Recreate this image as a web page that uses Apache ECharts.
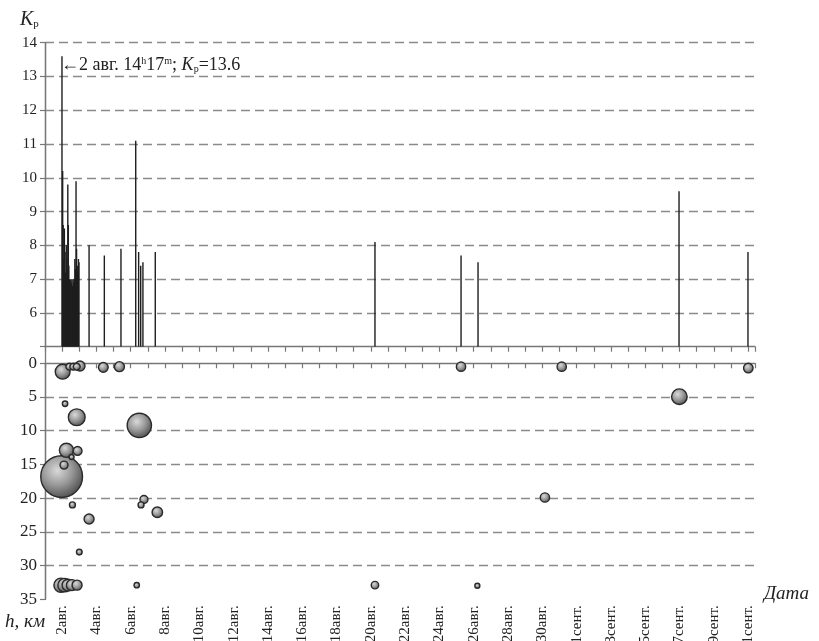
<!DOCTYPE html>
<html>
<head>
<meta charset="utf-8">
<script src="https://cdn.jsdelivr.net/npm/echarts@6/dist/echarts.min.js"></script>
<style>
html,body{margin:0;padding:0;background:#fff;}
#chart{width:819px;height:641px;}
</style>
</head>
<body>
<div id="chart"></div>
<script>
// Day numbering: value N = N-th day of August (32 = 1 Sep, 42 = 11 Sep)
const xTickLabels = ['2авг.','4авг.','6авг.','8авг.','10авг.','12авг.','14авг.','16авг.','18авг.','20авг.',
  '22авг.','24авг.','26авг.','28авг.','30авг.','1сент.','3сент.','5сент.','7сент.','9сент.','11сент.'];
const kTicks = [6,7,8,9,10,11,12,13,14];
const depthTicks = [0,5,10,15,20,25,30,35];

// Energy class K_p of events (top panel)
const barDay = [1.99,2.03,2.06,2.10,2.13,2.17,2.20,2.24,2.27,2.31,2.33,2.36,2.39,2.43,2.46,2.50,2.53,2.57,2.60,2.64,
  2.67,2.71,2.74,2.78,2.81,2.84,2.88,2.91,2.95,2.98,
  3.57,4.46,5.43,6.29,6.46,6.58,6.71,7.43,20.24,25.26,26.25,37.97,41.99];
const barK = [13.6,10.2,8.6,7.6,8.5,7.8,7.2,8.0,7.6,7.3,9.8,8.6,7.4,7.0,6.8,7.0,6.9,7.0,6.8,7.0,
  6.9,7.0,7.6,7.3,9.9,7.9,7.4,7.2,7.6,7.5,
  8.0,7.7,7.9,11.1,7.8,7.4,7.5,7.8,8.1,7.7,7.5,9.6,7.8];

// Hypocentres (bottom panel)
const bubbleDay = [2.03,2.42,2.65,2.85,3.04,4.40,5.34,2.17,2.85,6.50,2.25,2.90,2.55,2.11,1.97,2.60,3.57,3.00,6.77,6.60,7.55,
  1.93,2.14,2.34,2.57,2.87,6.35,20.24,26.21,25.26,31.13,30.15,37.99,42.01];
const bubbleDepth = [1.25,0.5,0.5,0.5,0.4,0.6,0.5,6.0,8.0,9.2,12.9,13.0,13.9,15.1,16.8,21.0,23.1,28.0,20.2,21.0,22.1,
  32.9,32.9,32.9,32.9,32.9,32.9,32.9,33.0,0.5,0.5,19.9,4.95,0.7];
const bubbleK = [9.4,6.3,6.3,6.3,7.8,7.7,7.8,5.3,9.9,11.4,9.2,7.3,5.0,6.9,13.6,5.7,7.8,5.5,6.9,5.7,8.0,
  9.2,9.0,8.5,8.2,7.8,5.3,6.6,5.0,7.5,7.5,7.5,9.6,7.6];

const serif = "'Liberation Serif','Times New Roman',serif";
const axisGray = '#777';
const gridDash = {color:'#8a8a8a', type:[9,5], width:1.3};

const bars = barDay.map((d,i)=>[d, barK[i]]);
const bubbles = bubbleDay.map((d,i)=>[d, bubbleDepth[i], bubbleK[i]])
  .sort((a,b)=>b[2]-a[2]);
const sizeOf = k => 10*Math.pow(10, 0.107*(k-7.8));

const chart = echarts.init(document.getElementById('chart'));
const xCommon = {type:'value', min:1, max:42.4, interval:1,
  axisLine:{lineStyle:{color:axisGray, width:1.3}},
  axisTick:{show:true, length:5, inside:false, lineStyle:{color:axisGray, width:1.2}},
  splitLine:{show:false}};

chart.setOption({
  animation:false,
  grid:[
    {left:45, right:64, top:42.7, height:304, outerBoundsMode:'none', containLabel:false},
    {left:45, right:64, top:363.3, height:236, outerBoundsMode:'none', containLabel:false},
    {left:45, right:64, top:42.7, height:556.6, outerBoundsMode:'none', containLabel:false}
  ],
  xAxis:[
    Object.assign({gridIndex:0, axisLabel:{show:false}}, xCommon),
    Object.assign({gridIndex:1, axisLabel:{show:true, rotate:90, margin:6, fontFamily:serif, fontSize:15, color:'#222',
      hideOverlap:false,
      formatter:v=>{ return (v%2===0 && v>=2) ? (xTickLabels[(v-2)/2]||'') : ''; }}}, xCommon),
    {gridIndex:2, type:'value', show:false, min:0, max:1}
  ],
  yAxis:[
    {gridIndex:0, type:'value', min:5, max:14, interval:1,
      axisLine:{show:true, lineStyle:{color:axisGray, width:1.3}},
      axisTick:{show:true, length:5, lineStyle:{color:axisGray, width:1.2}},
      axisLabel:{fontFamily:serif, fontSize:15, color:'#222', margin:8,
        formatter:v=> kTicks.indexOf(v)>=0 ? String(v) : ''},
      splitLine:{show:true, showMinLine:false, lineStyle:gridDash}},
    {gridIndex:1, type:'value', inverse:true, min:0, max:35, interval:5,
      axisLine:{show:true, lineStyle:{color:axisGray, width:1.3}},
      axisTick:{show:true, length:5, lineStyle:{color:axisGray, width:1.2}},
      axisLabel:{fontFamily:serif, fontSize:17, color:'#222', margin:8,
        formatter:v=> depthTicks.indexOf(v)>=0 ? String(v) : ''},
      splitLine:{show:true, showMinLine:false, showMaxLine:false, lineStyle:gridDash}},
    {gridIndex:2, type:'value', position:'right', min:0, max:1,
      axisLine:{show:true, lineStyle:{color:axisGray, width:1.3}},
      axisTick:{show:false}, axisLabel:{show:false}, splitLine:{show:false}}
  ],
  series:[
    {type:'custom', xAxisIndex:0, yAxisIndex:0, data:bars, clip:true,
      renderItem:(params, api)=>{
        const p0 = api.coord([api.value(0), 5]);
        const p1 = api.coord([api.value(0), api.value(1)]);
        return {type:'line', shape:{x1:p0[0], y1:p0[1], x2:p1[0], y2:p1[1]},
          style:{stroke:'#1e1e1e', lineWidth:1.4}};
      }},
    {type:'scatter', xAxisIndex:1, yAxisIndex:1, data:bubbles, clip:false,
      symbolSize:v=>sizeOf(v[2]),
      itemStyle:{
        color:{type:'radial', x:0.4, y:0.36, r:0.68,
          colorStops:[{offset:0,color:'#d9d9d9'},{offset:0.5,color:'#999'},{offset:1,color:'#4a4a4a'}]},
        borderColor:'#2a2a2a', borderWidth:1.4, opacity:1}}
  ],
  graphic:[
    {type:'text', x:61, y:65, z:10, style:{
      text:'←2 авг. 14{sup|h}17{sup|m}; {it|K}{sub|р}=13.6',
      fontFamily:serif, fontSize:18, fill:'#222', verticalAlign:'middle',
      rich:{
        sup:{fontFamily:serif, fontSize:10, verticalAlign:'top', fill:'#222'},
        sub:{fontFamily:serif, fontSize:10, verticalAlign:'bottom', fill:'#222'},
        it:{fontFamily:serif, fontSize:18, fontStyle:'italic', fill:'#222'}
      }}},
    {type:'text', x:20, y:20, style:{
      text:'{it|K}{sub|р}', verticalAlign:'middle',
      rich:{
        it:{fontFamily:serif, fontSize:20, fontStyle:'italic', fill:'#222'},
        sub:{fontFamily:serif, fontSize:11, verticalAlign:'bottom', fill:'#222'}
      }}},
    {type:'text', x:5, y:622, style:{
      text:'h, км', fontFamily:serif, fontSize:19, fontStyle:'italic', fill:'#222', verticalAlign:'middle'}},
    {type:'text', x:764, y:594, style:{
      text:'Дата', fontFamily:serif, fontSize:19, fontStyle:'italic', fill:'#222', verticalAlign:'middle'}}
  ]
});
</script>
</body>
</html>
